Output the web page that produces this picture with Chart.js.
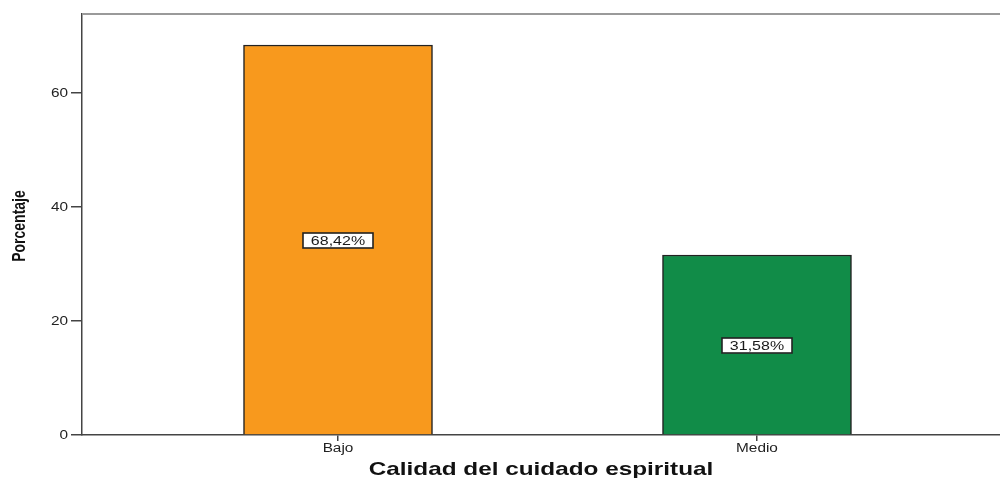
<!DOCTYPE html>
<html>
<head>
<meta charset="utf-8">
<script src="https://cdn.jsdelivr.net/npm/chart.js@4.4.1/dist/chart.umd.min.js"></script>
<style>
  html, body { margin: 0; padding: 0; background: #fff; overflow: hidden; }
  #wrap { width: 1000px; height: 478px; }
</style>
</head>
<body>
<div id="wrap"><canvas id="myChart" width="1000" height="478"></canvas></div>
<script>
// data
const categories = ['Bajo', 'Medio'];
const percentages = [68.42, 31.58];
const barColors = ['#F8991D', '#118C48'];
const yTicks = [0, 20, 40, 60];
const xTitle = 'Calidad del cuidado espiritual';
const yTitle = 'Porcentaje';

// SPSS picture is stretched sideways, text drawn with the same stretch
const STRETCH = 1.28;
const FONT = '"Liberation Sans", Arial, sans-serif';

function stretchedText(ctx, text, x, y, align) {
    ctx.save();
    ctx.translate(x, y);
    ctx.scale(STRETCH, 1);
    ctx.textAlign = align;
    ctx.fillText(text, 0, 0);
    ctx.restore();
}

const textPlugin = {
    id: 'spssText',
    afterDraw(chart) {
        const ctx = chart.ctx;
        const area = chart.chartArea;
        const xs = chart.scales.x;
        const ys = chart.scales.y;

        // top frame line
        ctx.save();
        ctx.strokeStyle = '#9a9a9a';
        ctx.lineWidth = 2;
        ctx.beginPath();
        ctx.moveTo(area.left, area.top);
        ctx.lineTo(area.right, area.top);
        ctx.stroke();
        ctx.restore();

        ctx.save();
        ctx.fillStyle = '#222';
        ctx.textBaseline = 'middle';
        ctx.font = '12px ' + FONT;
        ys.ticks.forEach(t => {
            stretchedText(ctx, String(t.value), area.left - 14, ys.getPixelForValue(t.value) + 1, 'right');
        });
        xs.ticks.forEach(t => {
            const label = categories[Math.round(t.value) - 1];
            if (label) stretchedText(ctx, label, xs.getPixelForValue(t.value), area.bottom + 14, 'center');
        });

        // axis titles
        ctx.fillStyle = '#111';
        ctx.font = 'bold 19px ' + FONT;
        stretchedText(ctx, xTitle, (area.left + area.right) / 2, 470, 'center');

        ctx.font = 'bold 14px ' + FONT;
        ctx.translate(20, 226);
        ctx.rotate(-Math.PI / 2);
        ctx.scale(1, STRETCH);
        ctx.textAlign = 'center';
        ctx.fillText(yTitle, 0, 0);
        ctx.restore();

        // value boxes in the middle of each bar
        const meta = chart.getDatasetMeta(0);
        ctx.save();
        ctx.font = '12.5px ' + FONT;
        ctx.textBaseline = 'middle';
        meta.data.forEach((bar, i) => {
            const label = percentages[i].toFixed(2).replace('.', ',') + '%';
            const cy = (bar.y + bar.base) / 2 + 1;
            const w = 70, h = 15;
            ctx.fillStyle = '#fff';
            ctx.fillRect(bar.x - w / 2, cy - h / 2, w, h);
            ctx.strokeStyle = '#222';
            ctx.lineWidth = 1.6;
            ctx.strokeRect(Math.round(bar.x - w / 2), Math.round(cy - h / 2), w, h);
            ctx.fillStyle = '#1a1a1a';
            stretchedText(ctx, label, bar.x, cy + 1, 'center');
        });
        ctx.restore();
    }
};

const ctx = document.getElementById('myChart').getContext('2d');
const myChart = new Chart(ctx, {
    type: 'bar',
    data: {
        datasets: [{
            data: percentages.map((v, i) => ({ x: i + 1, y: v })),
            backgroundColor: barColors,
            borderColor: '#222',
            borderWidth: 1.5,
            barThickness: 189
        }]
    },
    options: {
        responsive: false,
        animation: false,
        layout: { padding: { top: 14, left: 0, right: 0, bottom: 0 } },
        plugins: {
            legend: { display: false },
            tooltip: { enabled: false }
        },
        scales: {
            x: {
                type: 'linear',
                min: 0.389,
                max: 2.58,
                offset: false,
                afterFit: s => { s.height = 43; },
                ticks: { stepSize: 1, includeBounds: false, color: 'rgba(0,0,0,0)', autoSkip: false },
                grid: { offset: false, drawOnChartArea: false, drawTicks: true, tickLength: 6, color: '#444', lineWidth: 1.5 },
                border: { color: '#444', width: 1.5 }
            },
            y: {
                min: 0,
                max: 73.86,
                afterFit: s => { s.width = 82; },
                afterBuildTicks: s => { s.ticks = yTicks.map(v => ({ value: v })); },
                ticks: { color: 'rgba(0,0,0,0)' },
                grid: { drawOnChartArea: false, drawTicks: true, tickLength: 11, color: '#444', lineWidth: 1.5 },
                border: { color: '#444', width: 1.5 }
            }
        }
    },
    plugins: [textPlugin]
});
</script>
</body>
</html>
